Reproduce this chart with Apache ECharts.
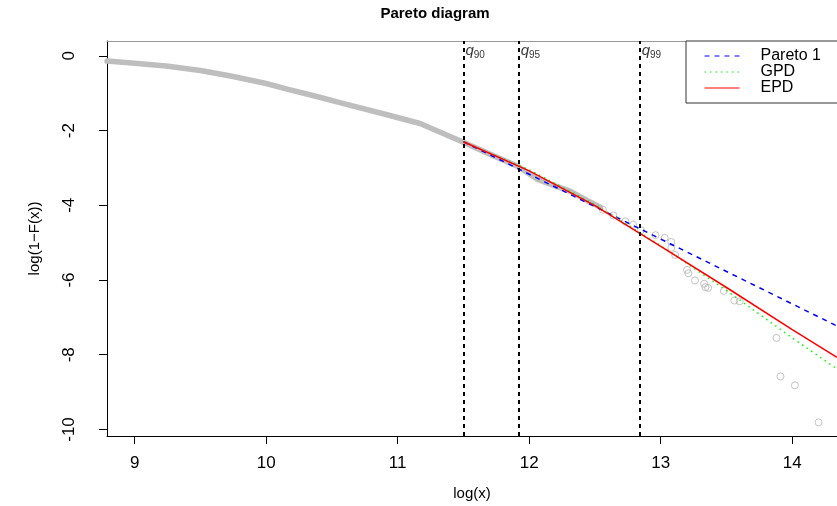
<!DOCTYPE html>
<html>
<head>
<meta charset="utf-8">
<script src="https://cdn.jsdelivr.net/npm/echarts@6/dist/echarts.min.js"></script>
<style>
html,body{margin:0;padding:0;background:#fff;}
#chart{width:837px;height:506px;}
</style>
</head>
<body>
<div id="chart"></div>
<script>
// ---- data ----
const xTicks = [9, 10, 11, 12, 13, 14];
const yTicks = [-10, -8, -6, -4, -2, 0];
const quantileNames = ['90', '95', '99'];
const quantileValues = [11.50, 11.92, 12.84];
// empirical log survival (dense part, drawn as overlapping circles)
const empiricalDense = [
  [8.79,-0.14],[9.00,-0.20],[9.24,-0.27],[9.50,-0.39],[9.73,-0.54],[10.00,-0.74],
  [10.16,-0.89],[10.40,-1.10],[10.56,-1.25],[10.89,-1.55],[11.17,-1.81],[11.32,-2.04],
  [11.50,-2.31],[11.70,-2.63],[11.92,-2.97],[12.06,-3.30],[12.15,-3.42],[12.31,-3.62],
  [12.44,-3.87],[12.54,-4.05]
];
// empirical log survival (sparse tail points)
const empiricalTail = [
  [12.56,-4.12],[12.64,-4.27],[12.73,-4.43],[12.79,-4.52],[12.85,-4.67],[12.96,-4.80],
  [13.03,-4.87],[13.08,-4.98],[13.08,-5.14],[13.11,-5.33],[13.20,-5.73],[13.21,-5.82],
  [13.26,-6.01],[13.33,-6.10],[13.34,-6.19],[13.36,-6.21],[13.48,-6.29],[13.56,-6.55],
  [13.60,-6.57],[13.88,-7.55],[13.91,-8.58],[14.02,-8.82],[14.20,-9.81]
];
const paretoFit = [[11.50,-2.30],[14.34,-7.23]];
const gpdFit = [[11.50,-2.30],[12.0,-3.05],[12.5,-3.98],[13.0,-5.08],[13.5,-6.28],[14.0,-7.55],[14.34,-8.38]];
const epdFit = [[11.50,-2.30],[12.0,-3.08],[12.5,-4.01],[13.0,-5.10],[13.5,-6.20],[14.0,-7.33],[14.34,-8.07]];

const FONT = '"Liberation Sans", Arial, Helvetica, sans-serif';
const chart = echarts.init(document.getElementById('chart'), null, {renderer: 'canvas'});

const labelData = quantileValues.map((v, i) => ({value: [v, 0.10], name: quantileNames[i]}));

chart.setOption({
  animation: false,
  backgroundColor: '#ffffff',
  title: {
    text: 'Pareto diagram',
    left: 430, top: 1, textAlign: 'center',
    textStyle: {fontFamily: FONT, fontSize: 15, fontWeight: 'bold', color: '#000'}
  },
  legend: {
    orient: 'vertical',
    left: 686, top: 41,
    padding: [7, 40, 7, 18],
    itemWidth: 35, itemHeight: 10, itemGap: 0,
    borderColor: '#333', borderWidth: 1, borderRadius: 0,
    backgroundColor: '#fff',
    itemStyle: {opacity: 0},
    lineStyle: {width: 1},
    data: ['Pareto 1', 'GPD', 'EPD'],
    textStyle: {fontFamily: FONT, fontSize: 16, color: '#000', lineHeight: 15, padding: [0, 0, 0, 16]}
  },
  grid: {left: 107, top: 41, right: 0, bottom: 67, containLabel: false},
  xAxis: [{
    type: 'value', min: 8.79, max: 14.34, position: 'bottom',
    name: 'log(x)', nameLocation: 'middle', nameGap: 50,
    nameTextStyle: {fontFamily: FONT, fontSize: 15, color: '#000'},
    axisLine: {show: true, onZero: false, lineStyle: {color: '#000', width: 1}},
    axisTick: {show: true, length: 8, customValues: xTicks, lineStyle: {color: '#000'}},
    axisLabel: {customValues: xTicks, margin: 19, fontFamily: FONT, fontSize: 17, color: '#000'},
    splitLine: {show: false}
  }, {
    type: 'value', min: 8.79, max: 14.34, position: 'top',
    axisLine: {show: true, onZero: false, lineStyle: {color: '#999', width: 1}},
    axisTick: {show: false}, axisLabel: {show: false}, splitLine: {show: false}
  }],
  yAxis: {
    type: 'value', min: -10.175, max: 0.398,
    name: 'log(1\u2212F(x))', nameLocation: 'middle', nameGap: 65,
    nameTextStyle: {fontFamily: FONT, fontSize: 15, color: '#000'},
    axisLine: {show: true, onZero: false, lineStyle: {color: '#000', width: 1}},
    axisTick: {show: true, length: 8, customValues: yTicks, lineStyle: {color: '#000'}},
    axisLabel: {customValues: yTicks, rotate: 90, margin: 29, fontFamily: FONT, fontSize: 17, color: '#000'},
    splitLine: {show: false}
  },
  series: [
    {
      name: 'empirical', type: 'line', data: empiricalDense, symbol: 'none', z: 1,
      lineStyle: {color: '#bebebe', width: 5.5, cap: 'round', join: 'round'}, silent: true
    },
    {
      name: 'empiricalTail', type: 'scatter', data: empiricalTail, symbol: 'circle', symbolSize: 7, z: 1,
      itemStyle: {color: 'rgba(0,0,0,0)', borderColor: '#b4b4b4', borderWidth: 1}, silent: true
    },
    {
      name: 'Pareto 1', type: 'line', data: paretoFit, symbol: 'none', z: 3,
      lineStyle: {color: '#0000ff', width: 1.5, type: [5, 5]}, itemStyle: {color: '#0000ff'}
    },
    {
      name: 'GPD', type: 'line', data: gpdFit, symbol: 'none', z: 3,
      lineStyle: {color: '#00ff00', width: 1.5, type: [1.5, 4]}, itemStyle: {color: '#00ff00'}
    },
    {
      name: 'EPD', type: 'line', data: epdFit, symbol: 'none', z: 4,
      lineStyle: {color: '#ff0000', width: 1.5}, itemStyle: {color: '#ff0000'}
    },
    {
      name: 'quantiles', type: 'scatter', data: labelData, symbolSize: 0, z: 5, silent: true,
      label: {
        show: true, position: 'right', distance: 2,
        formatter: p => '{q|q}{s|' + p.name + '}',
        rich: {
          q: {fontFamily: FONT, fontSize: 15, fontStyle: 'italic', color: '#000', verticalAlign: 'bottom', padding: [0, 0, 2, 0]},
          s: {fontFamily: FONT, fontSize: 10, color: '#000', verticalAlign: 'bottom'}
        }
      },
      markLine: {
        silent: true, symbol: 'none', animation: false,
        label: {show: false},
        lineStyle: {color: '#000', width: 2, type: [4, 4]},
        data: quantileValues.map(v => ({xAxis: v}))
      }
    }
  ]
});
</script>
</body>
</html>
